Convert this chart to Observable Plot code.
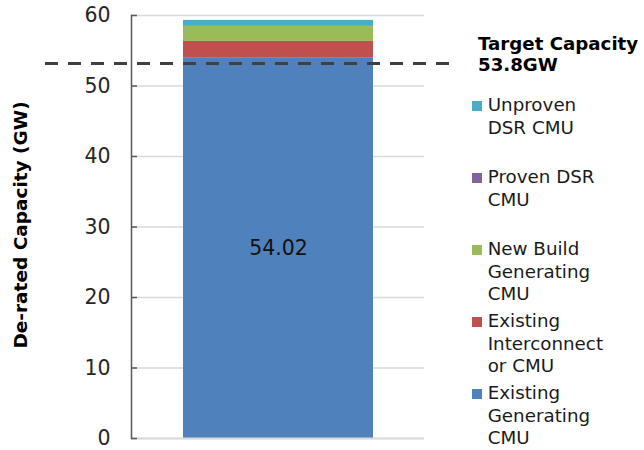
<!DOCTYPE html>
<html>
<head>
<meta charset="utf-8">
<script src="https://cdn.jsdelivr.net/npm/d3@7"></script>
<script src="https://cdn.jsdelivr.net/npm/@observablehq/plot@0.6"></script>
<style>
  html, body { margin: 0; padding: 0; background: #fff; }
  #wrap { position: relative; width: 644px; height: 450px; font-family: "DejaVu Sans", Verdana, sans-serif; }
  #wrap svg { position: absolute; left: 0; top: 0; }
  .target { position: absolute; left: 478px; top: 34px; font-weight: bold; font-size: 18.2px; line-height: 20.7px; color: #000; white-space: nowrap; }
  .item { position: absolute; left: 472px; font-size: 18.3px; line-height: 22.7px; color: #1a1a1a; white-space: nowrap; }
  .item .sw { position: absolute; left: 0; width: 10px; height: 10px; }
  .item .tx { margin-left: 15.7px; }
</style>
</head>
<body>
<div id="wrap"></div>
<script>
// ---- data ----
const category = ["Auction"];
const seriesNames = [
  "Existing Generating CMU",
  "Existing Interconnect or CMU",
  "New Build Generating CMU",
  "Proven DSR CMU",
  "Unproven DSR CMU"
];
const seriesValues = [54.02, 2.30, 2.12, 0.02, 0.85];
const seriesColors = ["#4F81BD", "#C0504D", "#9BBB59", "#8064A2", "#4BACC6"];
const legendLines = [
  ["Existing", "Generating", "CMU"],
  ["Existing", "Interconnect", "or CMU"],
  ["New Build", "Generating", "CMU"],
  ["Proven DSR", "CMU"],
  ["Unproven", "DSR CMU"]
];
const yTicks = [0, 10, 20, 30, 40, 50, 60];
const targetLevel = 53.2;
const targetText = ["Target Capacity", "53.8GW"];
const yLabel = "De-rated Capacity (GW)";

// ---- build ----
const rows = seriesNames.map((s, i) => ({cat: category[0], series: s, value: seriesValues[i]}));

const chart = Plot.plot({
  width: 644,
  height: 450,
  marginLeft: 131,
  marginRight: 220,
  marginTop: 15,
  marginBottom: 12,
  style: {fontFamily: "DejaVu Sans, Verdana, sans-serif", background: "transparent", color: "#262626"},
  x: {domain: category, padding: 0.213, axis: null},
  y: {domain: [0, 60]},
  color: {domain: seriesNames, range: seriesColors},
  marks: [
    Plot.gridY(yTicks, {stroke: "#d9d9d9", strokeOpacity: 1, strokeWidth: 1.3}),
    Plot.barY(rows, {x: "cat", y: "value", fill: "series"}),
    Plot.ruleY([0], {stroke: "#d9d9d9", strokeWidth: 2}),
    Plot.frame({anchor: "left", stroke: "#595959", strokeWidth: 1.5}),
    Plot.tickY(yTicks, {y: d => d, stroke: "#595959", strokeWidth: 1.5, insetRight: 287}),
    Plot.axisY(yTicks, {tickSize: 0, tickPadding: 21, fontSize: 20.5, label: null, fill: "#262626"}),
    Plot.ruleY([targetLevel], {stroke: "#404040", strokeWidth: 3, strokeDasharray: "13,10", insetLeft: -86, insetRight: -31}),
    Plot.text([seriesValues[0]], {x: () => category[0], y: d => d / 2, text: d => d.toFixed(2), fontSize: 20.5, fill: "#111"}),
    Plot.text([yLabel], {frameAnchor: "left", dx: -110, dy: -2, rotate: -90, textAnchor: "middle", fontWeight: "bold", fontSize: 18.5, fill: "#000"})
  ]
});

const wrap = document.getElementById("wrap");
wrap.appendChild(chart);

const t = document.createElement("div");
t.className = "target";
t.innerHTML = targetText.join("<br>");
wrap.appendChild(t);

// legend: top-to-bottom is reverse of stacking order
const order = seriesNames.map((_, i) => i).reverse();
order.forEach((si, k) => {
  const it = document.createElement("div");
  it.className = "item";
  it.style.top = (94 + k * 72) + "px";
  const sw = document.createElement("div");
  sw.className = "sw";
  sw.style.background = seriesColors[si];
  sw.style.top = "7px";
  it.appendChild(sw);
  const tx = document.createElement("div");
  tx.className = "tx";
  tx.innerHTML = legendLines[si].join("<br>");
  it.appendChild(tx);
  wrap.appendChild(it);
});
</script>
</body>
</html>
